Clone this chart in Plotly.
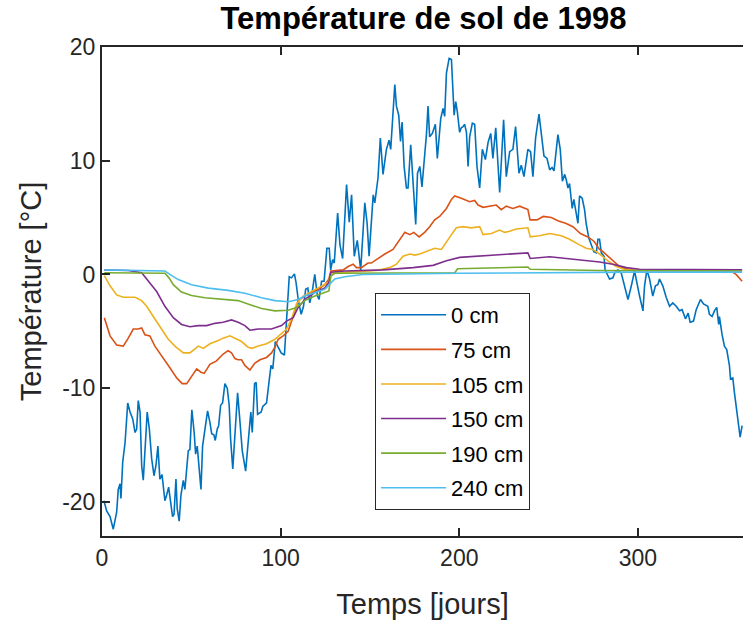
import plotly.graph_objects as go

# ---- data ----
day_0cm = [1.1, 2.6, 4.5, 6.3, 8.2, 9.1, 10.1, 10.6, 11.6, 12.9, 14.4, 15.7, 17.2, 18.5, 19.4, 20.3, 21.3, 22.2, 23.1, 24.0,
           25.3, 26.5, 27.8, 29.1, 30.2, 31.3, 32.4, 33.6, 35.2, 36.2, 37.3, 38.4, 39.5, 40.3, 41.4, 42.1, 43.2, 44.2, 45.5, 46.4,
           47.7, 48.3, 49.2, 50.3, 51.6, 52.4, 53.3, 54.4, 55.4, 56.3, 57.6, 59.1, 60.4, 61.4, 62.6, 63.4, 64.5, 65.3, 66.4, 67.5,
           68.8, 70.1, 71.2, 72.0, 73.2, 74.5, 75.9, 77.0, 78.5, 80.4, 81.5, 83.3, 84.1, 85.4, 86.3, 87.1, 89.1, 90.0, 92.1, 93.3,
           94.6, 95.6, 97.0, 98.6, 100.3, 102.1, 103.5, 104.8, 106.1, 107.7, 108.6, 110.0, 111.5, 112.8, 114.0, 115.2, 116.3, 117.6, 119.1, 120.6,
           121.5, 122.9, 124.3, 125.9, 127.2, 128.0, 129.1, 130.0, 131.9, 133.2, 134.7, 136.9, 138.4, 139.7, 141.2, 142.9, 144.8, 147.1, 148.4, 149.5,
           151.8, 152.7, 154.5, 155.8, 157.3, 159.2, 160.7, 161.6, 163.9, 164.8, 166.1, 167.1, 168.0, 169.1, 170.4, 171.3, 172.8, 174.1, 175.6, 176.6,
           177.9, 179.1, 181.6, 182.5, 183.4, 184.9, 186.6, 187.7, 189.6, 190.9, 191.8, 192.8, 194.3, 195.6, 196.5, 197.1, 198.0, 198.9, 200.2, 201.1,
           202.1, 203.0, 204.0, 204.9, 205.8, 207.3, 208.6, 209.9, 211.4, 212.9, 214.6, 216.1, 217.6, 218.8, 220.4, 222.6, 224.8, 226.3, 228.2, 230.0,
           231.5, 233.4, 234.7, 236.2, 238.4, 239.9, 241.2, 242.7, 244.6, 245.9, 247.4, 249.1, 250.6, 251.9, 253.0, 255.2, 256.5, 257.7, 259.0, 259.9,
           260.8, 261.7, 263.2, 264.1, 265.1, 266.4, 267.3, 268.8, 270.1, 271.0, 272.5, 273.9, 275.3, 276.7, 277.6, 278.5, 279.5, 281.0, 281.6, 284.1,
           286.0, 286.9, 288.8, 290.7, 292.5, 294.4, 296.3, 298.1, 300.9, 302.8, 303.7, 305.0, 306.5, 308.3, 309.8, 311.1, 312.1, 313.9, 315.8, 317.7,
           319.5, 321.4, 323.3, 324.7, 326.6, 328.1, 329.2, 331.1, 332.6, 335.0, 336.7, 339.1, 340.0, 341.5, 342.8, 344.1, 345.2, 345.6, 347.1, 348.4,
           349.7, 351.2, 351.8, 353.1, 354.0, 355.0, 355.9, 357.2, 358.3]
temp_0cm = [-19.9, -20.8, -21.3, -22.4, -20.9, -18.9, -18.4, -19.7, -16.5, -14.8, -11.3, -12.1, -12.7, -13.9, -13.6, -11.1, -12.1, -16.8, -18.1, -15.1,
            -12.1, -13.6, -16.2, -17.7, -16.8, -15.1, -18.0, -17.6, -19.9, -19.4, -18.7, -20.0, -21.3, -21.1, -18.0, -20.6, -21.7, -19.4, -18.1, -18.9,
            -16.8, -15.5, -15.4, -11.9, -13.9, -15.8, -15.1, -17.4, -18.9, -15.1, -13.6, -12.0, -13.0, -14.0, -14.1, -14.6, -13.6, -13.3, -11.5, -11.3,
            -9.6, -10.0, -11.5, -14.5, -17.1, -14.0, -10.4, -12.5, -15.5, -17.3, -15.5, -12.1, -13.9, -9.6, -9.5, -12.3, -12.1, -11.6, -11.3, -9.6,
            -8.0, -8.3, -5.9, -6.4, -6.9, -7.1, -4.0, -0.2, -0.3, 0.05, -0.7, -2.4, -3.5, -2.8, -1.3, -1.2, -2.5, -1.6, 0.0, -1.9,
            -2.2, -0.6, -0.6, 2.3, 2.3, 0.4, 1.3, 1.0, 5.4, 2.6, 1.4, 7.9, 4.6, 7.0, 1.6, 3.0, 0.4, 6.3, 4.5, 1.6,
            7.0, 6.3, 8.5, 12.0, 8.8, 11.0, 11.8, 11.0, 16.7, 14.8, 14.0, 11.7, 13.4, 9.5, 7.6, 7.6, 11.4, 7.7, 4.4, 8.9,
            9.5, 7.7, 12.3, 14.8, 12.1, 12.4, 13.2, 10.2, 13.7, 14.6, 13.9, 17.7, 19.0, 18.9, 16.4, 14.0, 15.2, 14.3, 12.5, 12.9,
            13.0, 13.2, 12.5, 9.5, 12.1, 13.3, 13.2, 9.5, 7.6, 11.0, 10.1, 11.6, 12.4, 10.2, 12.9, 7.2, 13.6, 8.6, 10.8, 11.0,
            13.0, 8.9, 9.6, 8.6, 11.0, 10.8, 8.6, 12.0, 14.1, 12.6, 10.4, 10.2, 9.2, 9.4, 9.1, 12.3, 11.0, 8.2, 8.8, 8.3,
            7.6, 8.0, 5.8, 6.6, 5.7, 4.5, 6.9, 6.7, 5.7, 4.5, 3.2, 2.5, 2.0, 1.9, 3.1, 3.1, 1.9, 1.6, 0.4, -0.4,
            -0.3, 0.1, 0.4, 0.1, -1.0, -2.2, -1.0, 0.3, -1.9, -3.2, -1.0, 0.4, -0.4, -1.9, -1.0, -0.9, -0.4, -1.0, -2.0, -2.8,
            -2.5, -2.8, -3.2, -3.1, -3.9, -3.4, -4.2, -4.1, -3.1, -2.2, -2.6, -2.8, -3.5, -3.7, -3.2, -2.9, -4.4, -3.7, -5.3, -6.3,
            -6.6, -8.0, -9.2, -9.1, -10.4, -11.6, -13.0, -14.3, -13.3]

day_75cm = [1.3, 4.5, 8.2, 11.9, 14.7, 17.5, 20.3, 22.2, 24.0, 26.8, 29.6, 32.4, 35.2, 38.0, 41.8, 44.9, 47.4, 50.2, 53.0, 55.4,
            57.2, 60.4, 64.1, 67.8, 70.6, 72.5, 74.4, 76.2, 78.1, 80.0, 82.8, 85.6, 88.4, 92.1, 94.9, 96.8, 98.6, 101.4, 104.2, 107.0,
            109.8, 113.5, 117.3, 121.0, 124.7, 127.0, 128.1, 135.0, 137.8, 140.6, 142.4, 145.2, 148.9, 150.8, 153.6, 158.3, 162.9, 166.7, 169.5, 172.3,
            174.5, 177.5, 180.6, 183.4, 186.2, 189.0, 192.8, 195.6, 197.4, 201.1, 205.8, 208.6, 210.5, 213.3, 217.0, 220.7, 223.5, 226.3, 230.0, 233.8,
            238.4, 239.6, 243.5, 247.0, 251.5, 255.5, 259.5, 263.6, 267.8, 272.0, 275.5, 278.5, 280.4, 285.1, 289.7, 295.3, 300.9, 343.7, 352.1, 354.9,
            356.8, 358.3]
temp_75cm = [-3.8, -5.4, -6.2, -6.3, -5.6, -4.8, -4.8, -4.7, -5.3, -5.4, -6.3, -6.9, -7.5, -8.2, -9.1, -9.6, -9.6, -8.9, -8.3, -8.6,
             -8.7, -7.9, -7.6, -7.0, -6.7, -6.9, -7.4, -7.5, -7.5, -8.0, -8.4, -7.8, -7.5, -7.3, -6.9, -6.4, -5.7, -5.4, -5.0, -3.7,
             -2.3, -1.9, -1.6, -1.3, -0.9, -0.4, 0.3, 0.4, 0.7, 0.9, 0.6, 0.6, 1.0, 1.0, 1.3, 1.8, 2.2, 3.1, 3.7, 3.5,
             3.7, 3.3, 3.7, 4.2, 4.8, 5.1, 5.8, 6.6, 6.9, 6.7, 6.4, 6.5, 6.1, 5.9, 6.0, 6.1, 5.7, 6.0, 5.8, 6.0,
             5.7, 4.8, 4.8, 5.1, 5.0, 4.7, 4.5, 4.2, 3.6, 3.3, 2.9, 2.2, 2.0, 1.3, 0.7, 0.4, 0.35, 0.35, 0.3, 0.0,
             -0.3, -0.6]

day_105cm = [1.3, 4.5, 8.2, 11.9, 14.7, 18.5, 22.2, 25.0, 28.7, 33.3, 37.1, 40.8, 45.5, 49.2, 52.0, 53.9, 56.7, 60.4, 65.1, 67.8,
             71.6, 74.4, 78.1, 81.8, 84.0, 87.4, 92.1, 96.8, 100.5, 103.3, 106.1, 108.9, 112.6, 117.3, 122.9, 126.6, 128.4, 135.9, 153.6, 161.0,
             164.8, 166.7, 168.5, 172.3, 175.1, 177.9, 181.6, 186.2, 190.0, 192.8, 195.6, 198.3, 202.1, 206.7, 211.4, 213.3, 217.9, 222.6, 225.4, 228.2,
             231.9, 238.4, 239.7, 244.9, 250.6, 257.1, 261.7, 267.3, 271.0, 274.8, 278.5, 283.2, 287.9, 293.5, 300.9, 358.3]
temp_105cm = [-0.1, -1.0, -1.8, -2.0, -2.0, -2.0, -2.3, -2.8, -3.7, -4.8, -5.7, -6.3, -6.9, -6.9, -6.5, -6.3, -6.5, -6.1, -5.8, -5.6,
              -5.4, -5.6, -5.9, -6.4, -6.5, -6.3, -6.1, -5.7, -5.2, -4.8, -3.9, -2.6, -1.9, -1.5, -1.0, -0.7, 0.1, 0.2, 0.35, 0.6,
              0.9, 1.3, 1.6, 1.8, 1.7, 1.8, 2.0, 2.3, 2.2, 2.8, 3.5, 4.1, 4.2, 4.1, 4.2, 3.5, 3.6, 3.9, 3.7, 3.8,
              4.0, 4.1, 3.3, 3.4, 3.6, 3.4, 3.1, 2.6, 2.3, 2.2, 1.8, 1.2, 0.7, 0.4, 0.35, 0.3]

day_150cm = [1.3, 14.7, 22.2, 25.9, 30.6, 35.2, 39.9, 44.5, 49.2, 53.9, 58.6, 63.2, 67.8, 72.5, 76.2, 80.0, 82.8, 87.4, 94.9, 100.5,
             103.3, 107.0, 109.8, 113.5, 119.1, 124.7, 127.0, 128.1, 135.9, 157.3, 174.1, 185.3, 192.8, 200.2, 211.4, 222.6, 238.4, 239.7, 250.6, 259.9,
             269.2, 278.5, 286.0, 293.5, 300.9, 358.3]
temp_150cm = [0.4, 0.35, 0.15, -0.6, -1.5, -2.8, -3.8, -4.4, -4.6, -4.5, -4.5, -4.3, -4.2, -4.0, -4.2, -4.5, -4.9, -4.8, -4.8, -4.5,
              -4.1, -3.8, -2.9, -2.2, -1.6, -1.2, -0.7, 0.2, 0.3, 0.4, 0.6, 0.8, 1.2, 1.5, 1.6, 1.75, 1.9, 1.4, 1.55, 1.4,
              1.25, 1.1, 0.9, 0.6, 0.45, 0.4]

day_190cm = [1.3, 35.2, 37.5, 39.9, 44.5, 50.1, 57.6, 66.9, 76.2, 83.7, 89.3, 96.8, 104.2, 108.9, 113.5, 119.1, 124.7, 127.0, 128.1, 130.3,
             197.5, 199.0, 238.4, 239.7, 278.5, 358.3]
temp_190cm = [0.15, 0.1, -0.3, -0.9, -1.55, -1.85, -2.05, -2.2, -2.3, -2.7, -3.0, -3.2, -3.15, -2.9, -2.3, -1.9, -1.6, -1.45, -0.15, 0.1,
              0.15, 0.5, 0.65, 0.45, 0.35, 0.3]

day_240cm = [1.3, 35.2, 38.0, 42.7, 50.1, 59.5, 70.6, 80.0, 89.3, 96.8, 104.2, 109.8, 113.5, 119.1, 124.7, 128.4, 130.3, 135.9, 146.0, 200.0,
             238.4, 239.7, 300.0, 358.3]
temp_240cm = [0.4, 0.3, 0.0, -0.45, -0.9, -1.2, -1.4, -1.65, -2.05, -2.3, -2.4, -2.2, -1.9, -1.6, -1.3, -0.7, -0.4, -0.2, 0.0, 0.1,
              0.15, 0.1, 0.2, 0.2]

series_names = ["0 cm", "75 cm", "105 cm", "150 cm", "190 cm", "240 cm"]
series_days = [day_0cm, day_75cm, day_105cm, day_150cm, day_190cm, day_240cm]
series_temps = [temp_0cm, temp_75cm, temp_105cm, temp_150cm, temp_190cm, temp_240cm]
colors = ["#0072BD", "#D95319", "#EDB120", "#7E2F8E", "#77AC30", "#4DBEEE"]

x_ticks = [0, 100, 200, 300]
y_ticks = [-20, -10, 0, 10, 20]
y_tick_labels = ["-20", "-10", "0", "10", "20"]

FONT = "Liberation Sans, Arial, Helvetica, sans-serif"
AX = "#262626"

fig = go.Figure()
for i, (name, xs, ys, c) in enumerate(zip(series_names, series_days, series_temps, colors)):
    fig.add_trace(go.Scatter(x=xs, y=ys, mode="lines", name=name, legendgroup=f"g{i}",
                             line=dict(color=c, width=1.6)))

fig.update_layout(
    width=743, height=623,
    paper_bgcolor="white", plot_bgcolor="white",
    margin=dict(l=102, r=0, t=47, b=87),
    font=dict(family=FONT, color=AX, size=22),
    title=dict(text="<b>Température de sol de 1998</b>", x=0.57, xref="container", xanchor="center",
               y=1, yref="container", yanchor="top", pad=dict(t=7),
               font=dict(family=FONT, size=31, color="black")),
    showlegend=True,
    legend=dict(x=0.426, y=0.497, xanchor="left", yanchor="top",
                bgcolor="white", bordercolor=AX, borderwidth=1,
                font=dict(family=FONT, size=22, color="black"),
                tracegroupgap=3, itemwidth=65),
)
fig.update_xaxes(range=[0, 358.8], tickvals=x_ticks, ticks="inside", ticklen=8, tickwidth=2, tickcolor=AX,
                 showline=True, linecolor=AX, linewidth=2, mirror="ticks", showgrid=False, zeroline=False,
                 title=dict(text="Temps [jours]", font=dict(size=29, color=AX), standoff=24),
                 tickfont=dict(size=23, color=AX))
fig.update_yaxes(range=[-23, 20], tickvals=y_ticks, ticktext=y_tick_labels, ticks="inside", ticklen=8, tickwidth=2,
                 tickcolor=AX, showline=True, linecolor=AX, linewidth=2, mirror=False, showgrid=False, zeroline=False,
                 title=dict(text="Température [°C]", font=dict(size=29, color=AX), standoff=12),
                 tickfont=dict(size=23, color=AX))

fig.write_html("out.html")
